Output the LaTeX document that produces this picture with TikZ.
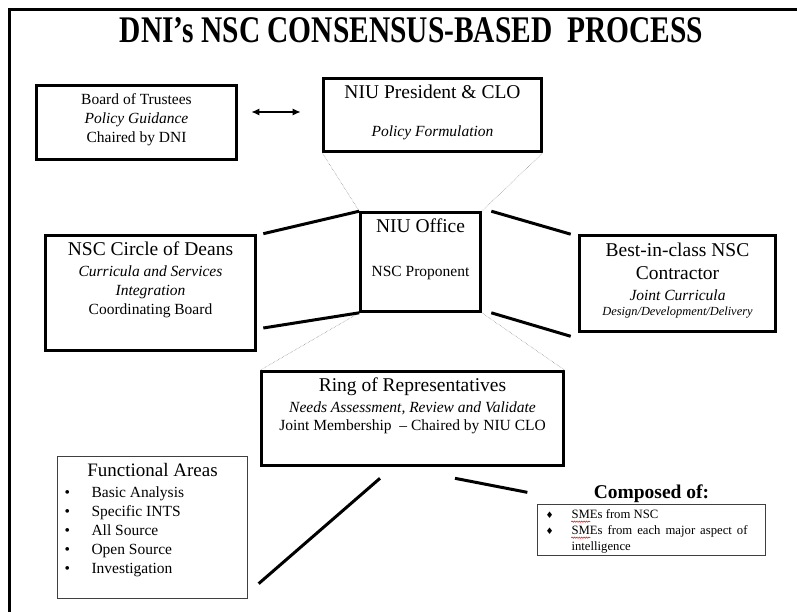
\documentclass[tikz,border=0pt]{standalone}
\usepackage{fontspec}
\setmainfont{Liberation Serif}
\newfontfamily\symbfont{DejaVu Sans}
\usepackage{graphicx}
\usetikzlibrary{positioning}
\usetikzlibrary{calc}
\usetikzlibrary{arrows.meta}
\usetikzlibrary{decorations.pathmorphing}
\tikzstyle{line} = [draw, line width=3pt]
\tikzstyle{faint} = [draw, densely dotted, gray, line width=0.5pt]
\tikzstyle{spellwave} = [draw, red, line width=0.5pt, decorate, decoration={snake, amplitude=0.7pt, segment length=2.4pt}]
\newcommand{\fsz}[2]{\fontsize{#1}{#2}\selectfont}
\newcommand{\bitem}{\makebox[27pt][l]{•}}
\newcommand{\ditem}{\makebox[26pt][l]{{\symbfont\fsz{9}{9}♦}}}

\begin{document}
\begin{tikzpicture}[x=1pt, y=-1pt,
				box/.style={draw, rectangle, line width=2.6pt},
				thinbox/.style={draw=black!75, rectangle, line width=1.3pt},
				txt/.style={inner sep=0pt, align=center, font=\fsz{15.5}{19}}]

				\useasboundingbox (0,0) rectangle (797,612);
				\draw[line width=3pt] (9.5,630) -- (9.5,9.5) -- (810,9.5);

				\node (title) at (411.5,30) [inner sep=0pt] {\resizebox{583pt}{25pt}{\bfseries DNI’s NSC CONSENSUS-BASED\ \ PROCESS}};

				\node (trustees) at (136.5,122.5) [box, minimum width=200pt, minimum height=74pt] {};
				\node[below=9.2pt of trustees.north] (trusteesT) [txt] {Board of Trustees\\\textit{Policy Guidance}\\Chaired by DNI};

				\node (president) at (432.5,115) [box, minimum width=218pt, minimum height=73pt] {};
				\node[below=7.2pt of president.north] (presidentT) [txt] {{\fsz{19.5}{23}NIU President \& CLO}\\[19pt]\textit{Policy Formulation}};

				\node (office) at (420.5,262) [box, minimum width=120pt, minimum height=99pt] {};
				\node[below=7.2pt of office.north] (officeT) [txt] {{\fsz{19.5}{23}NIU Office}\\[25pt]NSC Proponent};

				\node (deans) at (150.5,293) [box, minimum width=210pt, minimum height=115pt] {};
				\node[below=7.2pt of deans.north] (deansT) [txt] {{\fsz{19.5}{23}NSC Circle of Deans}\\[2pt]\textit{Curricula and Services}\\\textit{Integration}\\Coordinating Board};

				\node (contractor) at (677.5,283.5) [box, minimum width=196pt, minimum height=96pt] {};
				\node[below=8.2pt of contractor.north] (contractorT) [txt] {{\fsz{19.5}{23}Best-in-class NSC}\\[4pt]{\fsz{19.5}{23}Contractor}\\[2pt]\textit{Joint Curricula}\\[-4pt]{\fsz{12.4}{15}\itshape Design/Development/Delivery}};

				\node (ring) at (412.5,418.5) [box, minimum width=302pt, minimum height=94pt] {};
				\node[below=7.2pt of ring.north] (ringT) [txt] {{\fsz{19.5}{23}Ring of Representatives}\\[2pt]\textit{Needs Assessment, Review and Validate}\\[-1pt]Joint Membership\ \ -- Chaired by NIU CLO};

				\node (func) at (152.5,527.5) [thinbox, minimum width=190pt, minimum height=142pt] {};
				\node[below=7.5pt of func.north] (funcT) [txt, font=\fsz{19}{23}] {Functional Areas};
				\node[below right=31pt and 7.5pt of func.north west] (funcL) [txt, align=left] {\bitem Basic Analysis\\\bitem Specific INTS\\\bitem All Source\\\bitem Open Source\\\bitem Investigation};

				\node (comp) at (651.5,530) [thinbox, minimum width=228pt, minimum height=51pt] {};
				\node[above=1pt of comp.north] (compT) [txt, font=\bfseries\fsz{19.5}{23}] {Composed of:};
				\node[below right=5.8pt and 8.5pt of comp.north west] (compL) [txt, align=left, font=\fsz{12.7}{16}] {\ditem SMEs from NSC\\\ditem\makebox[176pt][s]{SMEs from each major aspect of}\\\hspace*{26pt}intelligence};
				\draw[spellwave] ($(compL.north west)+(26,12)$) -- ++(19,0);
				\draw[spellwave] ($(compL.north west)+(26,28)$) -- ++(19,0);

				\draw[{Latex[length=8pt,width=7pt]}-{Latex[length=8pt,width=7pt]}, line width=1.3pt] ($(trustees.east)+(13.5,-10.5)$) -- ($(president.west)+(-21.5,-3)$);
				\draw[faint] (president.south west) -- (office.north west);
				\draw[faint] (president.south east) -- (office.north east);
				\draw[faint] (office.south west) -- (ring.north west);
				\draw[faint] (office.south east) -- (ring.north east);
				\draw[line] ($(deans.north east)+(6.5,-0.5)$) -- (office.north west);
				\draw[line] ($(deans.east)+(6.5,35)$) -- (office.south west);
				\draw[line] ($(office.north east)+(9.5,0)$) -- ($(contractor.north west)+(-7.5,0)$);
				\draw[line] ($(office.south east)+(9.5,0)$) -- ($(contractor.south west)+(-7.5,3.5)$);
				\draw[line] ($(ring.south)+(-32.5,11.5)$) -- ($(func.south east)+(10.5,-15.5)$);
				\draw[line] ($(ring.south)+(42.5,11.5)$) -- ($(comp.north west)+(-9.5,-11.5)$);

			\end{tikzpicture}
\end{document}
